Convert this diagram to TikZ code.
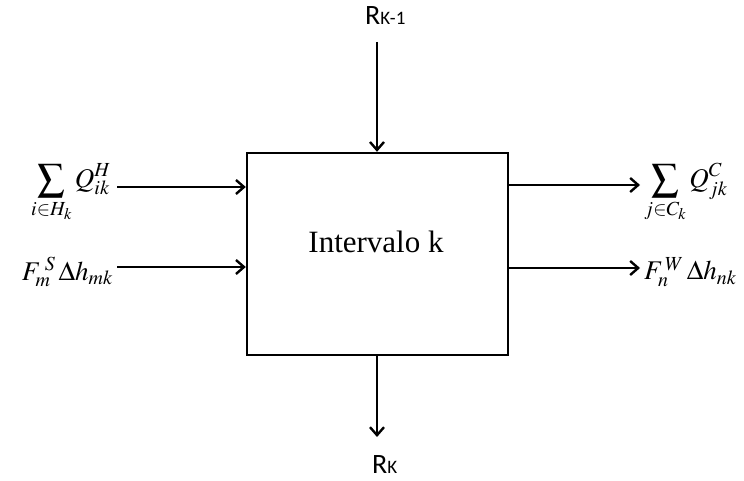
\documentclass[tikz,border=0pt]{standalone}
\usepackage{amsmath}
\usepackage{mathptmx}
\usepackage{fontspec}
\setmainfont{Liberation Serif}
\newfontfamily\calib{Carlito}
\usetikzlibrary{arrows.meta}
\begin{document}
\begin{tikzpicture}[x=1pt,y=-1pt,
  flow/.style={line width=2.4pt,-{Straight Barb[length=8pt,width=14pt,line width=2.4pt]}},
  lbl/.style={inner sep=0pt}]
\useasboundingbox (0,0) rectangle (744,481);
\node[draw,line width=2.4pt,minimum width=261pt,minimum height=202pt,inner sep=0pt] (box) at (377.5,254) {};
\node[lbl,anchor=base,font=\fontsize{31}{35}\selectfont] (int) at (376,252) {Intervalo k};
\node[lbl,anchor=base west,font=\calib\fontsize{28}{32}\selectfont] (rk1) at (365,25) {R{\fontsize{19}{22}\selectfont K-1}};
\node[lbl,anchor=base west,font=\calib\fontsize{28}{32}\selectfont] (rk) at (372,473) {R{\fontsize{19}{22}\selectfont K}};
\node[lbl,font=\fontsize{27}{31}\selectfont,anchor=east] (qh) at (111,193) {$\displaystyle\sum_{i\in H_k} Q_{ik}^{H}$};
\node[lbl,font=\fontsize{27}{32}\selectfont,anchor=east] (fs) at (113,272) {$F_m^{\;S}\,\Delta h_{mk}$};
\node[lbl,font=\fontsize{27}{31}\selectfont,anchor=west] (qc) at (644,193) {$\displaystyle\sum_{j\in C_k} Q_{jk}^{C}$};
\node[lbl,font=\fontsize{27}{32}\selectfont,anchor=west] (fw) at (644,272) {$F_n^{\,W}\,\Delta h_{nk}$};
\coordinate (t) at (377,42);
\coordinate (b) at (377,437);
\coordinate (l1) at (117,187);
\coordinate (l2) at (117,267);
\coordinate (r1) at (640,185);
\coordinate (r2) at (640,268);
\draw[flow] (t) -- (box.north -| t);
\draw[flow] (box.south -| b) -- (b);
\draw[flow] (l1) -- (box.west |- l1);
\draw[flow] (l2) -- (box.west |- l2);
\draw[flow] (box.east |- r1) -- (r1);
\draw[flow] (box.east |- r2) -- (r2);
\end{tikzpicture}
\end{document}
